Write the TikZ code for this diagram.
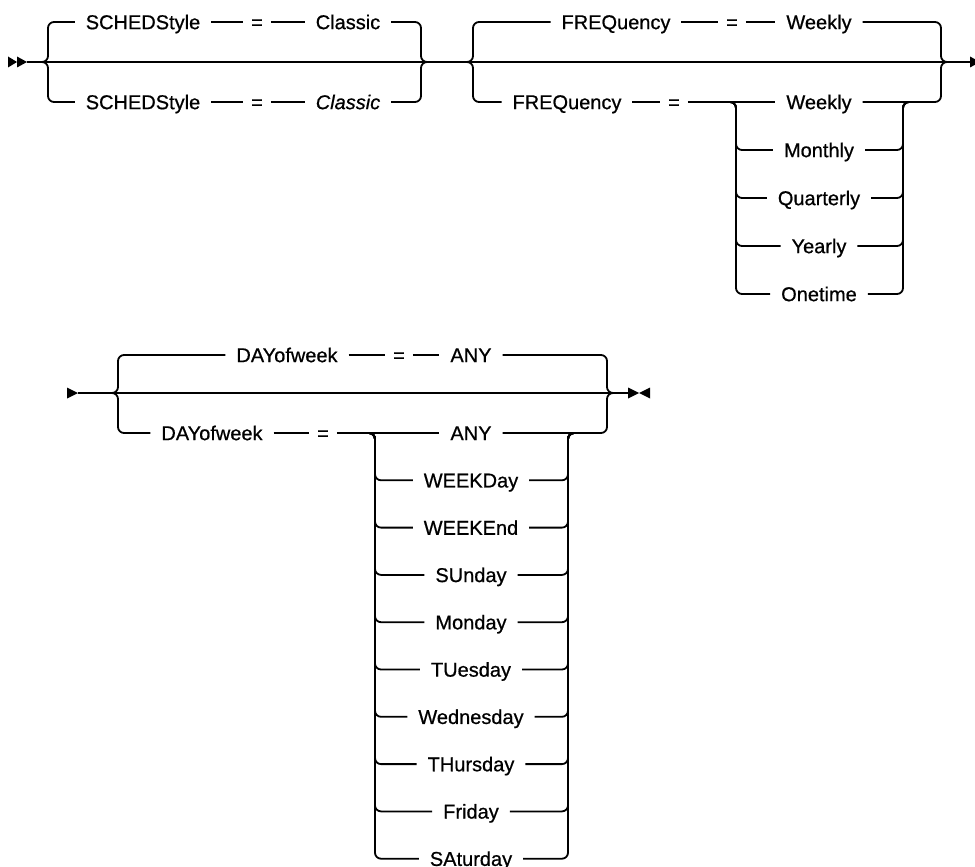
\documentclass[tikz,border=0pt]{standalone}
\usepackage{fontspec}
\setmainfont{Liberation Sans}[FakeBold=0.7]
\begin{document}
\begin{tikzpicture}[x=1pt,y=-1pt,line width=1.8pt,line join=round,
  kw/.style={inner sep=0pt,outer xsep=11pt,text height=14.3pt,text depth=0pt,font=\fontsize{20}{24}\selectfont},
  eqs/.style={kw,outer xsep=8pt},
  rc/.style={rounded corners=6pt}]
\useasboundingbox (0,0) rectangle (975,867);

% ---------------- Row 1 ----------------
\coordinate (r1s) at (27,62);
\coordinate (r1e) at (970,62);
\fill (8,56.5) -- (17,62) -- (8,67.5) -- cycle;
\fill (17,56.5) -- (27,62) -- (17,67.5) -- cycle;
\fill (970,56.5) -- (980,62) -- (970,67.5) -- cycle;
\draw (r1s) -- (r1e);

% group 1
\coordinate (g1t) at (42,62);  \coordinate (g1v) at (48,62);
\coordinate (g1rv) at (421,62); \coordinate (g1rt) at (427,62);
\node[kw] (sched1) at (143,22) {SCHEDStyle};
\node[eqs] (eq1) at (257,22) {=};
\node[kw] (cls1) at (348,22) {Classic};
\node[kw] (sched2) at (143,102) {SCHEDStyle};
\node[eqs] (eq2) at (257,102) {=};
\node[kw,font=\fontsize{20}{24}\selectfont\itshape] (cls2) at (348,102) {Classic};
\draw[rc] (g1t) -- (g1v) |- (sched1.west);
\draw (sched1.east) -- (eq1.west) (eq1.east) -- (cls1.west);
\draw[rc] (cls1.east) -| (g1rv) -- (g1rt);
\draw[rc] (g1t) -- (g1v) |- (sched2.west);
\draw (sched2.east) -- (eq2.west) (eq2.east) -- (cls2.west);
\draw[rc] (cls2.east) -| (g1rv) -- (g1rt);

% group 2
\coordinate (g2t) at (467,62);  \coordinate (g2v) at (473,62);
\coordinate (g2rv) at (941,62); \coordinate (g2rt) at (947,62);
\node[kw] (freq1) at (616,22) {FREQuency};
\node[eqs] (eq3) at (732,22) {=};
\node[kw] (wk1) at (819,22) {Weekly};
\draw[rc] (g2t) -- (g2v) |- (freq1.west);
\draw (freq1.east) -- (eq3.west) (eq3.east) -- (wk1.west);
\draw[rc] (wk1.east) -| (g2rv) -- (g2rt);

\node[kw] (freq2) at (567,102) {FREQuency};
\node[eqs] (eq4) at (674,102) {=};
\node[kw] (wk2) at (819,102) {Weekly};
\draw[rc] (g2t) -- (g2v) |- (freq2.west);
\draw (freq2.east) -- (eq4.west) (eq4.east) -- (wk2.west);
\draw[rc] (wk2.east) -| (g2rv) -- (g2rt);

\coordinate (fl) at (736,102);
\coordinate (fr) at (903,102);
\foreach \t [count=\k] in {Monthly,Quarterly,Yearly,Onetime} {
  \node[kw] (f\k) at (819,{102+48*\k}) {\t};
  \draw[rc] ([xshift=-6pt]fl) -- (fl) |- (f\k.west);
  \draw[rc] (f\k.east) -| (fr) -- ([xshift=6pt]fr);
}

% ---------------- Row 2 ----------------
\coordinate (r2s) at (78,393);
\coordinate (r2e) at (628,393);
\fill (67,387.5) -- (78,393) -- (67,398.5) -- cycle;
\fill (628,387.5) -- (639,393) -- (628,398.5) -- cycle;
\fill (650,387.5) -- (639,393) -- (650,398.5) -- cycle;
\draw (r2s) -- (r2e);

\coordinate (g3t) at (112,393);  \coordinate (g3v) at (118,393);
\coordinate (g3rv) at (607,393); \coordinate (g3rt) at (613,393);
\node[kw] (day1) at (287,355) {DAYofweek};
\node[eqs] (eq5) at (399,355) {=};
\node[kw] (any1) at (471,355) {ANY};
\draw[rc] (g3t) -- (g3v) |- (day1.west);
\draw (day1.east) -- (eq5.west) (eq5.east) -- (any1.west);
\draw[rc] (any1.east) -| (g3rv) -- (g3rt);

\node[kw] (day2) at (212,433) {DAYofweek};
\node[eqs] (eq6) at (323,433) {=};
\node[kw] (any2) at (471,433) {ANY};
\draw[rc] (g3t) -- (g3v) |- (day2.west);
\draw (day2.east) -- (eq6.west) (eq6.east) -- (any2.west);
\draw[rc] (any2.east) -| (g3rv) -- (g3rt);

\coordinate (dl) at (375,433);
\coordinate (dr) at (568,433);
\foreach \t [count=\k] in {WEEKDay,WEEKEnd,SUnday,Monday,TUesday,Wednesday,THursday,Friday,SAturday} {
  \node[kw] (d\k) at (471,{433+47.3*\k}) {\t};
  \draw[rc] ([xshift=-6pt]dl) -- (dl) |- (d\k.west);
  \draw[rc] (d\k.east) -| (dr) -- ([xshift=6pt]dr);
}
\end{tikzpicture}
\end{document}
